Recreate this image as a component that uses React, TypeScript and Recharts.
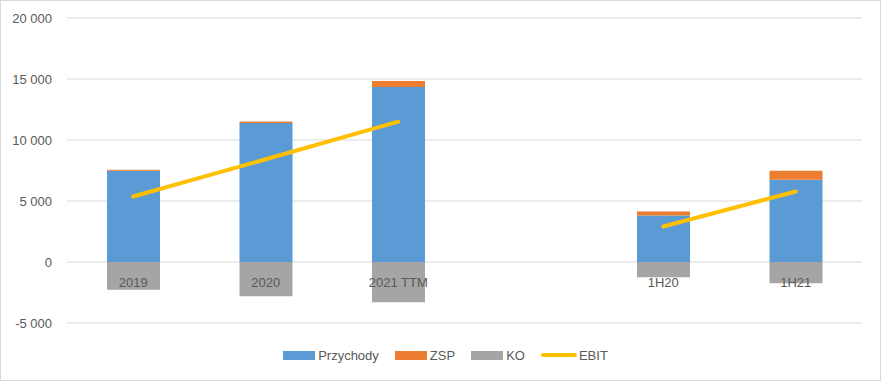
import React from "react";
import {
  ComposedChart,
  Bar,
  Line,
  XAxis,
  YAxis,
  CartesianGrid,
  Legend,
  LabelList,
} from "recharts";

const categories = ["2019", "2020", "2021 TTM", "", "1H20", "1H21"];
const przychody = [7470, 11400, 14345, null, 3810, 6735];
const zsp = [100, 110, 490, null, 330, 740];
const ko = [-2270, -2810, -3300, null, -1260, -1750];
const ebit = [5370, 8420, 11500, null, 2910, 5780];
const yTicks = [-5000, 0, 5000, 10000, 15000, 20000];

const data = categories.map((name, i) => ({
  name,
  Przychody: przychody[i],
  ZSP: zsp[i],
  KO: ko[i],
  EBIT: ebit[i],
}));

const W = 881;
const H = 381;
const MARGIN = { top: 18, right: 19, bottom: 58, left: 0 };
const Y_MIN = -5000;
const Y_MAX = 20000;
const PLOT_H = H - MARGIN.top - MARGIN.bottom;
const ZERO_Y = MARGIN.top + (PLOT_H * Y_MAX) / (Y_MAX - Y_MIN);

const FONT = "'Liberation Sans', Arial, sans-serif";
const TEXT = "#595959";

const COLORS: Record<string, string> = {
  Przychody: "#5B9BD5",
  ZSP: "#ED7D31",
  KO: "#A5A5A5",
  EBIT: "#FFC000",
};

const fmt = (v: number) => {
  const s = Math.abs(v)
    .toString()
    .replace(/\B(?=(\d{3})+(?!\d))/g, " ");
  return v < 0 ? "-" + s : s;
};

const CatLabel = (props: any) => {
  const { x, value } = props;
  if (!value || x == null) return null;
  return (
    <text
      x={x}
      y={ZERO_Y + 20}
      textAnchor="middle"
      dominantBaseline="central"
      fill={TEXT}
      fontSize={13}
      fontFamily={FONT}
    >
      {value}
    </text>
  );
};

const LegendContent = () => {
  const items = ["Przychody", "ZSP", "KO", "EBIT"];
  return (
    <div
      style={{
        display: "flex",
        justifyContent: "center",
        alignItems: "center",
        fontFamily: FONT,
        fontSize: 13,
        color: TEXT,
        height: 20,
        paddingLeft: 10,
        gap: 16,
      }}
    >
      {items.map((k) => (
        <div key={k} style={{ display: "flex", alignItems: "center" }}>
          {k === "EBIT" ? (
            <svg width={36} height={10} style={{ marginRight: 2 }}>
              <line
                x1={2}
                y1={5}
                x2={34}
                y2={5}
                stroke={COLORS[k]}
                strokeWidth={4}
                strokeLinecap="round"
              />
            </svg>
          ) : (
            <div
              style={{
                width: 32,
                height: 9,
                background: COLORS[k],
                marginRight: 3,
              }}
            />
          )}
          <span>{k}</span>
        </div>
      ))}
    </div>
  );
};

export default function App() {
  return (
    <div
      style={{
        position: "absolute",
        left: 0,
        top: 0,
        width: W,
        height: H,
        background: "#ffffff",
      }}
    >
      <ComposedChart
        width={W}
        height={H}
        data={data}
        margin={MARGIN}
        stackOffset="sign"
        barSize={53}
      >
        <CartesianGrid vertical={false} stroke="#D9D9D9" strokeWidth={1} />
        <XAxis
          dataKey="name"
          height={0}
          axisLine={false}
          tickLine={false}
          tick={false}
          interval={0}
        />
        <YAxis
          width={67}
          domain={[Y_MIN, Y_MAX]}
          ticks={yTicks}
          tickFormatter={fmt}
          axisLine={false}
          tickLine={false}
          tickMargin={9}
          tick={{ fill: TEXT, fontSize: 13, fontFamily: FONT }}
          interval={0}
        />
        <Bar
          dataKey="Przychody"
          stackId="a"
          fill={COLORS.Przychody}
          isAnimationActive={false}
        />
        <Bar
          dataKey="ZSP"
          stackId="a"
          fill={COLORS.ZSP}
          isAnimationActive={false}
        />
        <Bar
          dataKey="KO"
          stackId="a"
          fill={COLORS.KO}
          isAnimationActive={false}
        />
        <Line
          dataKey="EBIT"
          stroke={COLORS.EBIT}
          strokeWidth={4}
          strokeLinecap="round"
          dot={false}
          activeDot={false}
          isAnimationActive={false}
        >
          <LabelList dataKey="name" content={<CatLabel />} />
        </Line>
        <Legend
          layout="vertical"
          verticalAlign="middle"
          align="center"
          content={<LegendContent />}
          wrapperStyle={{ top: 345, left: 0, width: W }}
        />
      </ComposedChart>
      <div
        style={{
          position: "absolute",
          left: 0,
          top: 0,
          width: W,
          height: H,
          boxSizing: "border-box",
          border: "1px solid #D9D9D9",
          pointerEvents: "none",
        }}
      />
    </div>
  );
}
